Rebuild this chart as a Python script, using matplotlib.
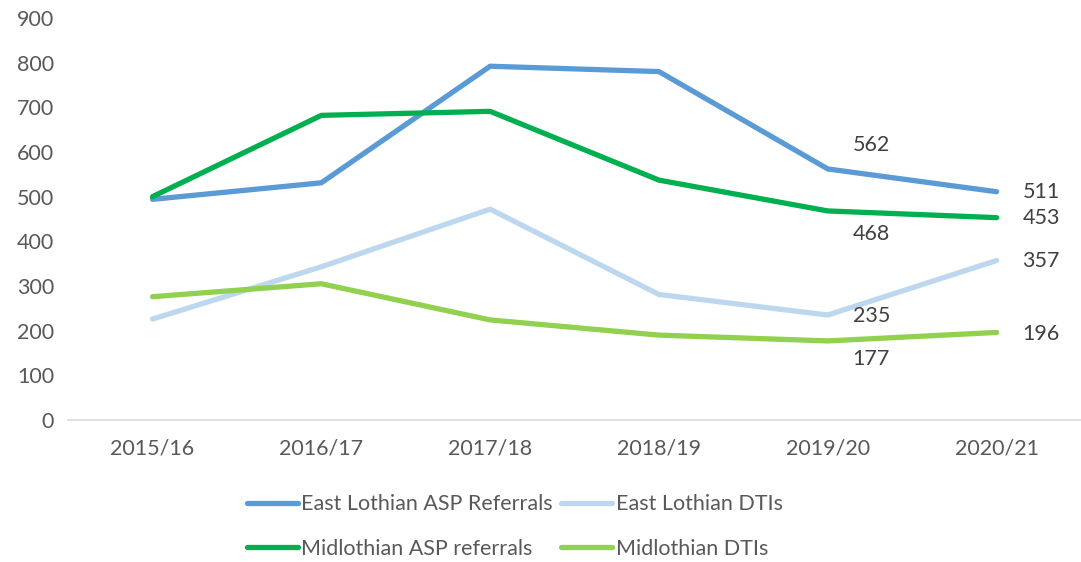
import matplotlib
matplotlib.use("Agg")
import matplotlib.pyplot as plt

categories = ["2015/16", "2016/17", "2017/18", "2018/19", "2019/20", "2020/21"]
el_asp = [494, 531, 792, 780, 562, 511]
el_dti = [226, 343, 472, 281, 235, 357]
mid_asp = [500, 682, 691, 537, 468, 453]
mid_dti = [276, 305, 224, 190, 177, 196]

plt.rcParams['font.family'] = ['Lato', 'DejaVu Sans']

fig = plt.figure(figsize=(10.81, 5.62), dpi=100)
ax = fig.add_axes([0.063, 0.2527, 0.937, 0.7153])
x = list(range(len(categories)))

lw = 3.8
l1, = ax.plot(x, el_asp, color="#5B9BD5", lw=lw, solid_capstyle="round", solid_joinstyle="round", label="East Lothian ASP Referrals")
l2, = ax.plot(x, el_dti, color="#BDD7EE", lw=lw, solid_capstyle="round", solid_joinstyle="round", label="East Lothian DTIs")
l3, = ax.plot(x, mid_asp, color="#00B050", lw=lw, solid_capstyle="round", solid_joinstyle="round", label="Midlothian ASP referrals")
l4, = ax.plot(x, mid_dti, color="#92D050", lw=lw, solid_capstyle="round", solid_joinstyle="round", label="Midlothian DTIs")

ax.set_xlim(-0.5, 5.5)
ax.set_ylim(0, 900)
ax.set_yticks(range(0, 901, 100))
ax.set_xticks(x)
ax.set_xticklabels(categories)
for s in ["top", "right", "left"]:
    ax.spines[s].set_visible(False)
ax.spines["bottom"].set_color("#D9D9D9")
ax.spines["bottom"].set_linewidth(1.2)
ax.tick_params(axis="both", length=0, labelsize=15.5, colors="#595959")
ax.tick_params(axis="x", pad=13)
ax.tick_params(axis="y", pad=10)

lab_color = "#404040"
def lab(xi, val, dx, dy):
    ax.annotate(str(val), (xi, val), xytext=(dx, dy), textcoords="offset pixels",
                ha="left", va="center", fontsize=15.5, color=lab_color)

lab(4, el_asp[4], 25, 24)
lab(4, mid_asp[4], 25, -23)
lab(4, el_dti[4], 25, -1)
lab(4, mid_dti[4], 25, -18)
lab(5, el_asp[5], 26, 0)
lab(5, mid_asp[5], 26, 0)
lab(5, el_dti[5], 26, 0)
lab(5, mid_dti[5], 26, -2)

fig.legend(handles=[l1, l3, l2, l4], loc="center", bbox_to_anchor=(0.476, 0.063),
           ncol=2, frameon=False, fontsize=15.5, labelcolor="#595959",
           handlelength=2.4, handletextpad=0.15, columnspacing=0.35, labelspacing=1.15)

fig.savefig("out.png", dpi=100)
